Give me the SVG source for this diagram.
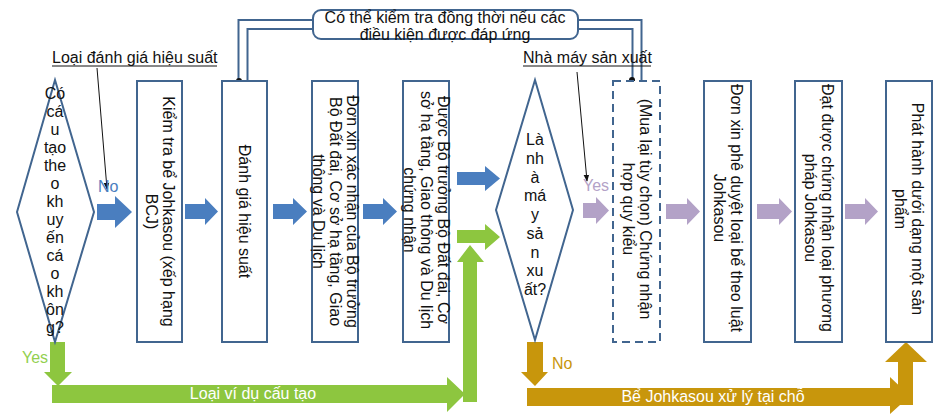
<svg xmlns="http://www.w3.org/2000/svg" width="939" height="414" viewBox="0 0 939 414">
<defs>
<style>
text{font-family:"Liberation Sans",Arial,sans-serif;font-size:16px;fill:#111}
.box{fill:#fff;stroke:#41658f;stroke-width:2}
.dash{fill:#fff;stroke:#41658f;stroke-width:2;stroke-dasharray:8 5}
.dia{fill:#fff;stroke:#41658f;stroke-width:2}
.blue{fill:#4a7ebf}
.purple{fill:#b3a2c7}
.green{fill:#8dc63f}
.gold{fill:#c8960c}
.mid{text-anchor:middle}
.thin{stroke:#111;stroke-width:1;fill:none}
.dblo{stroke:#41658f;stroke-width:11;fill:none}
.dbli{stroke:#fff;stroke-width:7;fill:none}
</style>
<marker id="ah" viewBox="0 0 10 10" refX="9" refY="5" markerWidth="7" markerHeight="7" orient="auto"><path d="M0,1 L10,5 L0,9 z" fill="#111"/></marker>
</defs>
<rect width="939" height="414" fill="#fff"/>

<g id="connectors">
  <path class="dblo" d="M243,81 V24.5 H316"/>
  <path class="dbli" d="M243,81 V24.5 H316"/>
  <path class="dblo" d="M575,24.5 H637 V81"/>
  <path class="dbli" d="M575,24.5 H637 V81"/>
  <circle cx="239" cy="81" r="3" fill="#111"/>
  <circle cx="632" cy="80" r="3" fill="#111"/>
  <line class="thin" x1="97" y1="68" x2="107" y2="189" marker-end="url(#ah)"/>
  <line class="thin" x1="577" y1="72" x2="587" y2="181" marker-end="url(#ah)"/>
  <polygon class="blue" points="97,204 115,204 115,196 132,212 115,228 115,220 97,220"/>
  <polygon class="blue" points="185,204 205,204 205,198 218,211.5 205,225 205,219 185,219"/>
  <polygon class="blue" points="273,204 293,204 293,198 307,211.5 293,225 293,219 273,219"/>
  <polygon class="blue" points="363,204 383,204 383,198 397,211.5 383,225 383,219 363,219"/>
  <polygon class="blue" points="457,172 485,172 485,166 500,178.5 485,191 485,185 457,185"/>
  <polygon class="green" points="457,230 485,230 485,224 500,237 485,250 485,243 457,243"/>
  <polygon class="green" points="50,342 65,342 65,372 72,372 58,386 44,372 50,372"/>
  <polygon class="green" points="52,385 447,385 447,377 465,394 447,412 447,403 52,403"/>
  <polygon class="green" points="463,402 463,262 457,262 470,245 484,262 477,262 477,402"/>
  <polygon class="purple" points="583,203 596,203 596,197 609,210.5 596,224 596,218 583,218"/>
  <polygon class="purple" points="666,204 687,204 687,198 700,211.5 687,225 687,219 666,219"/>
  <polygon class="purple" points="757,204 779,204 779,198 792,211.5 779,225 779,219 757,219"/>
  <polygon class="purple" points="845,204 865,204 865,198 878,211.5 865,225 865,219 845,219"/>
  <polygon class="gold" points="527,342 543,342 543,372 548,372 535,386 521,372 527,372"/>
  <polygon class="gold" points="527,388 890,388 890,377 910,396 890,414 890,406 527,406"/>
  <polygon class="gold" points="898,405 898,362 885,362 906,342 927,362 913,362 913,405"/>
  <text x="98" y="192" style="fill:#4a7ebf">No</text>
  <text x="22" y="363" style="fill:#92d050">Yes</text>
  <text x="583" y="191" style="fill:#b3a2c7">Yes</text>
  <text x="552" y="369" style="fill:#c8960c">No</text>
  <text class="mid" x="253" y="399" style="fill:#fff">Loại ví dụ cấu tạo</text>
  <text class="mid" x="713" y="402" style="fill:#fff">Bể Johkasou xử lý tại chỗ</text>
</g>

<g id="banner">
  <rect x="313" y="10" width="265" height="29" rx="8" ry="8" fill="#fff" stroke="#41658f" stroke-width="2"/>
  <text class="mid" x="445" y="23">Có thể kiểm tra đồng thời nếu các</text>
  <text class="mid" x="445" y="40">điều kiện được đáp ứng</text>
</g>

<g id="label-performance">
  <text x="52" y="63">Loại đánh giá hiệu suất</text>
  <line x1="52" y1="66" x2="217" y2="66" stroke="#111" stroke-width="1"/>
</g>
<g id="label-factory">
  <text x="523" y="63">Nhà máy sản xuất</text>
  <line x1="523" y1="66" x2="651" y2="66" stroke="#111" stroke-width="1"/>
</g>

<g id="decision1">
  <polygon class="dia" points="55,80 94,212 55,342 17,212"/>
  <text class="mid" x="55" y="99">Có<tspan x="55" dy="18">cá</tspan><tspan x="55" dy="18">u</tspan><tspan x="55" dy="18">tạo</tspan><tspan x="55" dy="18">the</tspan><tspan x="55" dy="18">o</tspan><tspan x="55" dy="18">kh</tspan><tspan x="55" dy="18">uy</tspan><tspan x="55" dy="18">ến</tspan><tspan x="55" dy="18">cá</tspan><tspan x="55" dy="18">o</tspan><tspan x="55" dy="18">kh</tspan><tspan x="55" dy="18">ôn</tspan><tspan x="55" dy="18">g?</tspan></text>
</g>

<g id="box1">
  <rect class="box" x="137" y="81" width="45" height="261"/>
  <text class="mid" transform="translate(159.5,211.5) rotate(90)"><tspan x="0" y="-3">Kiểm tra bể Johkasou (xếp hạng</tspan><tspan x="0" y="14">BCJ)</tspan></text>
</g>

<g id="box2">
  <rect class="box" x="222" y="81" width="45" height="261"/>
  <text class="mid" transform="translate(244.5,211.5) rotate(90)"><tspan x="0" y="6">Đánh giá hiệu suất</tspan></text>
</g>

<g id="box3">
  <rect class="box" x="312" y="81" width="46" height="261"/>
  <text class="mid" transform="translate(335,211.5) rotate(90)"><tspan x="0" y="-11.5">Đơn xin xác nhận của Bộ trưởng</tspan><tspan x="0" y="5.5">Bộ Đất đai, Cơ sở hạ tầng, Giao</tspan><tspan x="0" y="22.5">thông và Du lịch</tspan></text>
</g>

<g id="box4">
  <rect class="box" x="403" y="81" width="46" height="261"/>
  <text class="mid" transform="translate(426,210) rotate(90)"><tspan x="0" y="-11.5">Được Bộ trưởng Bộ Đất đai, Cơ</tspan><tspan x="0" y="5.5">sở hạ tầng, Giao thông và Du lịch</tspan><tspan x="0" y="22.5">chứng nhận</tspan></text>
</g>

<g id="decision2">
  <polygon class="dia" points="535,80 573,210 535,340 496,210"/>
  <text class="mid" x="535" y="145">Là<tspan x="535" dy="18.75">nh</tspan><tspan x="535" dy="18.75">à</tspan><tspan x="535" dy="18.75">má</tspan><tspan x="535" dy="18.75">y</tspan><tspan x="535" dy="18.75">sả</tspan><tspan x="535" dy="18.75">n</tspan><tspan x="535" dy="18.75">xu</tspan><tspan x="535" dy="18.75">ất?</tspan></text>
</g>

<g id="box5">
  <rect class="dash" x="613" y="81" width="47" height="261"/>
  <text class="mid" transform="translate(636.5,209) rotate(90)"><tspan x="0" y="-3">(Mua lại tùy chọn) Chứng nhận</tspan><tspan x="0" y="14">hợp quy kiểu</tspan></text>
</g>

<g id="box6">
  <rect class="box" x="704" y="81" width="47" height="261"/>
  <text class="mid" transform="translate(727.5,208) rotate(90)"><tspan x="0" y="-3">Đơn xin phê duyệt loại bể theo luật</tspan><tspan x="0" y="14">Johkasou</tspan></text>
</g>

<g id="box7">
  <rect class="box" x="795" y="81" width="47" height="261"/>
  <text class="mid" transform="translate(818.5,208) rotate(90)"><tspan x="0" y="-3">Đạt được chứng nhận loại phương</tspan><tspan x="0" y="14">pháp Johkasou</tspan></text>
</g>

<g id="box8">
  <rect class="box" x="886" y="81" width="46" height="261"/>
  <text class="mid" transform="translate(909,209) rotate(90)"><tspan x="0" y="-3">Phát hành dưới dạng một sản</tspan><tspan x="0" y="14">phẩm</tspan></text>
</g>
</svg>
